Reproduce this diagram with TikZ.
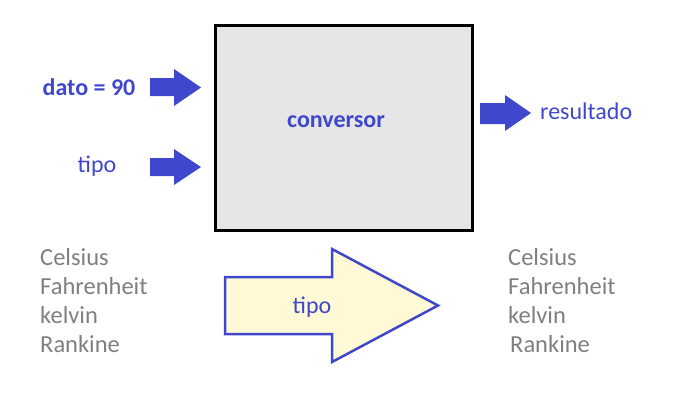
\documentclass[tikz,border=0pt]{standalone}
\usepackage{fontspec}
\setmainfont{Carlito}
\definecolor{cblue}{HTML}{3F48CC}
\definecolor{cgray}{HTML}{7F7F7F}
\definecolor{boxgray}{HTML}{E6E6E6}
\definecolor{cream}{HTML}{FFFAD5}
\begin{document}
\begin{tikzpicture}[x=1pt,y=-1pt,
  bluetxt/.style={text=cblue,font=\fontsize{24}{28}\selectfont,inner sep=0pt},
  graytxt/.style={text=cgray,font=\fontsize{24.5}{29}\selectfont,inner sep=0pt,align=left,anchor=north west},
  smallarrow/.style={fill=cblue,draw=none}]
\useasboundingbox (0,0) rectangle (692,416);
% main box
\node[draw=black,line width=3pt,fill=boxgray,minimum width=257pt,minimum height=205pt,inner sep=0pt] (box) at (343.5,127.5) {};
\node[bluetxt,font=\fontsize{24}{28}\selectfont\bfseries] (conv) at (336,122) {conversor};
% input arrows
\fill[smallarrow] (150,78) -- (174,78) -- (174,69) -- (201,87.5) -- (174,106) -- (174,96) -- (150,96) -- cycle;
\fill[smallarrow] (150,158) -- (174,158) -- (174,149) -- (201,167) -- (174,185) -- (174,176) -- (150,176) -- cycle;
\fill[smallarrow] (480,103) -- (505,103) -- (505,95) -- (531,113) -- (505,131) -- (505,124) -- (480,124) -- cycle;
\node[bluetxt,font=\fontsize{24}{28}\selectfont\bfseries] (dato) at (89,87) {dato = 90};
\node[bluetxt] (tipo1) at (97,166) {tipo};
\node[bluetxt,anchor=west] (res) at (540,111) {resultado};
% big arrow
\draw[draw=cblue,line width=2.5pt,fill=cream,line join=miter] (225,277) -- (332,277) -- (332,249) -- (438,305.5) -- (332,362) -- (332,334) -- (225,334) -- cycle;
\node[bluetxt] (tipo2) at (312,307) {tipo};
% gray lists
\node[graytxt] (left) at (40,248) {Celsius\\Fahrenheit\\kelvin\\Rankine};
\node[graytxt] (right) at (508,248) {Celsius\\Fahrenheit\\kelvin\\\hspace{2pt}Rankine};
\end{tikzpicture}
\end{document}
